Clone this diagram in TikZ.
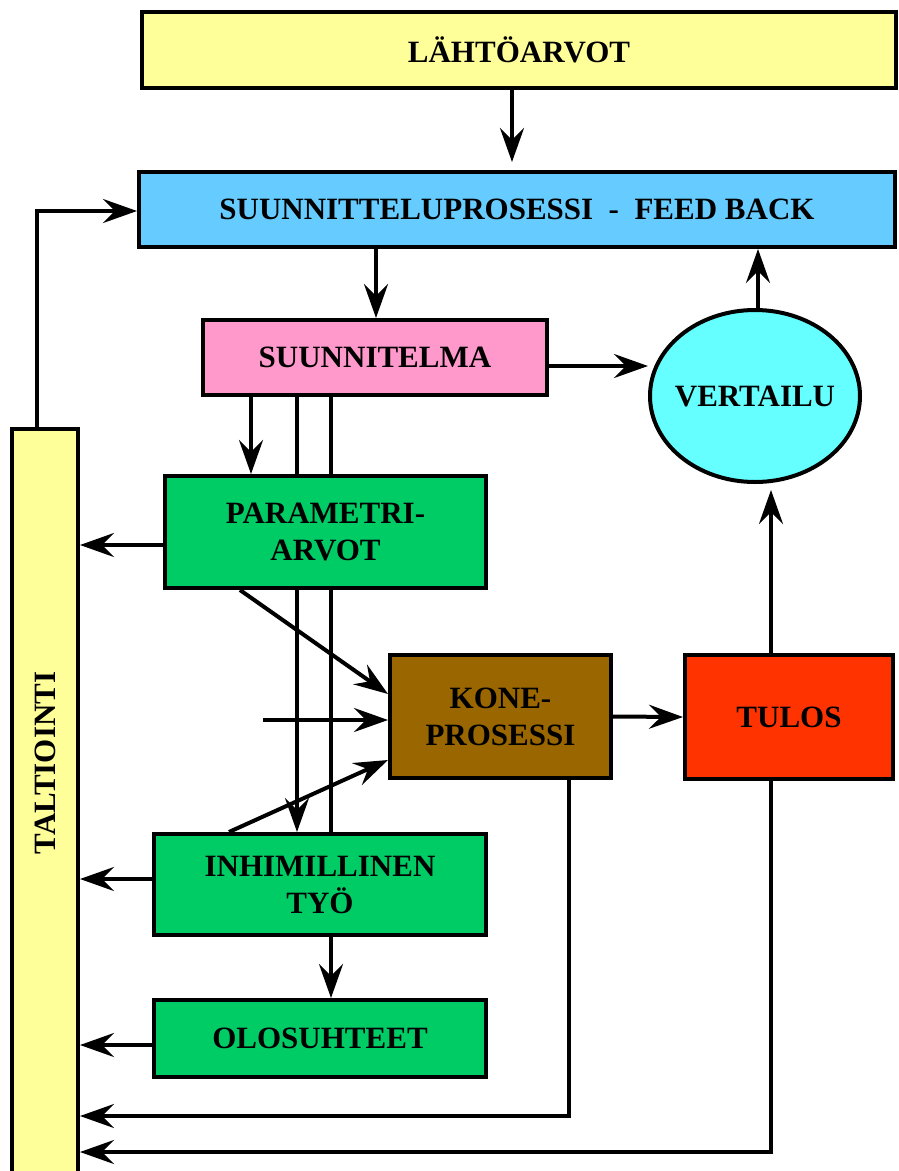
\documentclass[tikz,border=0pt]{standalone}
\usepackage{fontspec}
\setmainfont{Liberation Serif}
\usetikzlibrary{arrows.meta,shapes.geometric}
\definecolor{lyellow}{HTML}{FFFF99}
\definecolor{lblue}{HTML}{66CCFF}
\definecolor{lpink}{HTML}{FF99CC}
\definecolor{lcyan}{HTML}{66FFFF}
\definecolor{lgreen}{HTML}{00CC66}
\definecolor{lbrown}{HTML}{996600}
\definecolor{lred}{HTML}{FF3300}
\pgfdeclarelayer{back}
\pgfdeclarelayer{bg}
\pgfsetlayers{back,bg,main}
\begin{document}
\begin{tikzpicture}[x=1pt,y=-1pt,
  lbl/.style={font=\bfseries\fontsize{31}{37}\selectfont, align=center},
  box/.style={draw=black, line width=4pt, lbl, inner sep=0pt},
  arr/.style={line width=4pt, -{Stealth[length=34pt,width=24pt,inset=12pt]}},
  ln/.style={line width=4pt}]
\clip (0,0) rectangle (899,1171);
\begin{pgfonlayer}{back}
\fill[white] (0,0) rectangle (899,1171);
\end{pgfonlayer}

\node[box, fill=lyellow, minimum width=754, minimum height=76] (lahto) at (519,50) {L\"AHT\"OARVOT};
\node[box, fill=lblue, minimum width=756, minimum height=75] (suunn) at (517,209.5) {SUUNNITTELUPROSESSI \ -\ \ FEED BACK};
\node[box, fill=lpink, minimum width=344, minimum height=75] (suunnitelma) at (375,357.5) {SUUNNITELMA};
\node[draw=black, line width=4pt, ellipse, fill=lcyan, minimum width=210, minimum height=172, label={[lbl]center:VERTAILU}] (vert) at (755,396) {};
\node[box, fill=lgreen, minimum width=321, minimum height=112] (param) at (325.5,532) {PARAMETRI-\\ARVOT};
\node[box, fill=lbrown, minimum width=221, minimum height=123] (kone) at (500.5,716.5) {KONE-\\PROSESSI};
\node[box, fill=lred, minimum width=208, minimum height=124] (tulos) at (789,717) {TULOS};
\node[box, fill=lgreen, minimum width=332, minimum height=101] (inhim) at (320,884.5) {INHIMILLINEN\\TY\"O};
\node[box, fill=lgreen, minimum width=332, minimum height=77] (olos) at (320,1038.5) {OLOSUHTEET};
\node[box, fill=lyellow, minimum width=66, minimum height=769] (taltio) at (45,813.5) {};
\node[lbl, rotate=90] (taltiotxt) at (45,763) {TALTIOINTI};

\coordinate (hin) at (263,720);

\begin{pgfonlayer}{bg}
\draw[arr, shorten >=8pt] (512,0 |- lahto.south) -- (512,0 |- suunn.north);
\draw[arr] (376,0 |- suunn.south) -- (376,0 |- suunnitelma.north);
\draw[arr] (suunnitelma.east |- 0,366) -- (vert.west |- 0,366);
\draw[arr] (758,0 |- vert.north) -- (758,0 |- suunn.south);
\draw[arr, shorten >=6pt] (771,0 |- tulos.north) -- (771,0 |- vert.south);
\draw[arr] (kone.east) -- (tulos.west);
\draw[arr] (251,0 |- suunnitelma.south) -- (251,0 |- param.north);
\draw[arr] (297,0 |- suunnitelma.south) -- (297,0 |- inhim.north);
\draw[ln] (331,0 |- suunnitelma.south) -- (331,0 |- inhim.north);
\draw[arr] (331,0 |- inhim.south) -- (331,0 |- olos.north);
\draw[arr] (240,0 |- param.south) -- (kone.west |- 0,694);
\draw[arr] (hin) -- (kone.west |- hin);
\draw[arr] (229,0 |- inhim.north) -- (kone.west |- 0,760);
\draw[arr] (param.west |- 0,545) -- (taltio.east |- 0,545);
\draw[arr] (inhim.west |- 0,879) -- (taltio.east |- 0,879);
\draw[arr] (olos.west |- 0,1045) -- (taltio.east |- 0,1045);
\draw[arr] (569,0 |- kone.south) -- (569,1116) -- (taltio.east |- 0,1116);
\draw[arr] (771,0 |- tulos.south) -- (771,1152) -- (taltio.east |- 0,1152);
\draw[arr] (37,0 |- taltio.north) -- (37,211) -- (suunn.west |- 0,211);
\end{pgfonlayer}
\end{tikzpicture}
\end{document}
